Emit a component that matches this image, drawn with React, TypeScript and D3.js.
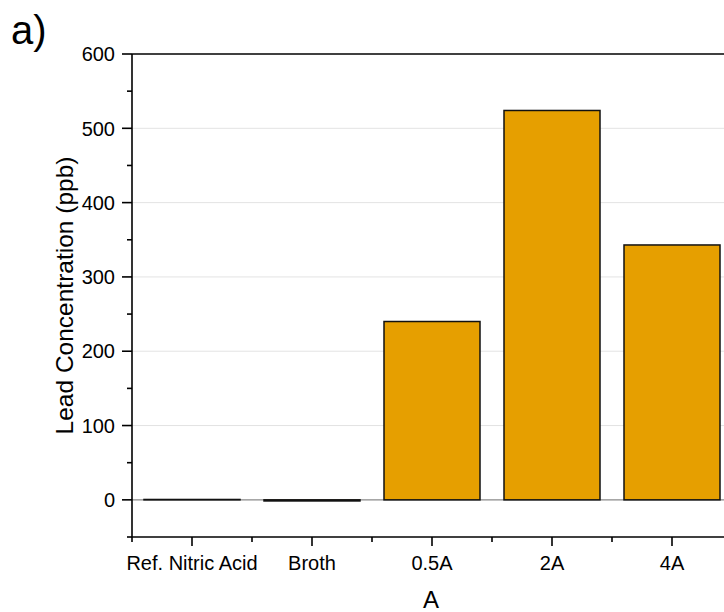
import React from "react";
import * as d3 from "d3";

const categories = ["Ref. Nitric Acid", "Broth", "0.5A", "2A", "4A"];
const values = [0.5, -1.5, 240, 524, 343];
const yMajorTicks = [0, 100, 200, 300, 400, 500, 600];
const yMinorTicks = [-50, 50, 150, 250, 350, 450, 550];
const yGridTicks = [100, 200, 300, 400, 500];

const W = 724;
const H = 612;
const FONT = "'Liberation Sans', Arial, sans-serif";

export default function App() {
  const left = 132;
  const right = 732;
  const top = 54;
  const bottom = 537;
  const x = d3.scaleBand<string>().domain(categories).range([left, right]).paddingInner(0).paddingOuter(0);
  const y = d3.scaleLinear().domain([-50, 600]).range([bottom, top]);
  const bw = x.bandwidth();
  const barW = bw * 0.8;
  const boundaries = categories.slice(0, -1).map((c) => (x(c) as number) + bw);

  return (
    <div style={{ position: "absolute", left: 0, top: 0 }}>
      <svg width={W} height={H} style={{ display: "block", background: "#fff" }} fontFamily={FONT}>
        <rect x={0} y={0} width={W} height={H} fill="#fff" />
        {/* grid */}
        {yGridTicks.map((t) => (
          <line key={"g" + t} x1={left} x2={right} y1={y(t)} y2={y(t)} stroke="#e3e3e3" strokeWidth={1} />
        ))}
        {/* zero line */}
        <line x1={left} x2={right} y1={y(0)} y2={y(0)} stroke="#8a8a8a" strokeWidth={1.2} />
        {/* bars */}
        {categories.map((c, i) => {
          const cx = (x(c) as number) + bw / 2;
          const y0 = y(0);
          const yv = y(values[i]);
          return (
            <rect
              key={c}
              x={cx - barW / 2}
              y={Math.min(y0, yv)}
              width={barW}
              height={Math.max(Math.abs(y0 - yv), 0.01)}
              fill="#E69F00"
              stroke="#111"
              strokeWidth={1.5}
            />
          );
        })}
        {/* axes frame */}
        <line x1={left} x2={right} y1={top} y2={top} stroke="#000" strokeWidth={1.6} />
        <line x1={left} x2={right} y1={bottom} y2={bottom} stroke="#000" strokeWidth={1.6} />
        <line x1={left} x2={left} y1={top} y2={bottom} stroke="#000" strokeWidth={1.6} />
        {/* y ticks */}
        {yMajorTicks.map((t) => (
          <g key={"ym" + t}>
            <line x1={left - 10} x2={left} y1={y(t)} y2={y(t)} stroke="#000" strokeWidth={1.6} />
            <text x={left - 17} y={y(t)} dy="0.36em" textAnchor="end" fontSize={20} fill="#000">
              {t}
            </text>
          </g>
        ))}
        {yMinorTicks.map((t) => (
          <line key={"yn" + t} x1={left - 5} x2={left} y1={y(t)} y2={y(t)} stroke="#000" strokeWidth={1.6} />
        ))}
        {/* x ticks */}
        {categories.map((c) => {
          const cx = (x(c) as number) + bw / 2;
          return (
            <g key={"xt" + c}>
              <line x1={cx} x2={cx} y1={bottom} y2={bottom + 9} stroke="#000" strokeWidth={1.6} />
              <text x={cx} y={569.5} textAnchor="middle" fontSize={20} fill="#000">
                {c}
              </text>
            </g>
          );
        })}
        {[left, ...boundaries].map((b, i) => (
          <line key={"xb" + i} x1={b} x2={b} y1={bottom} y2={bottom + 5} stroke="#000" strokeWidth={1.6} />
        ))}
        {/* axis titles */}
        <text x={431} y={608} textAnchor="middle" fontSize={24} fill="#000">
          A
        </text>
        <text
          transform={`translate(73, ${(y(-50) + y(600)) / 2}) rotate(-90)`}
          textAnchor="middle"
          fontSize={24.5}
          fill="#000"
        >
          Lead Concentration (ppb)
        </text>
        <text x={11} y={44} fontSize={40} fill="#000">
          a)
        </text>
      </svg>
    </div>
  );
}
